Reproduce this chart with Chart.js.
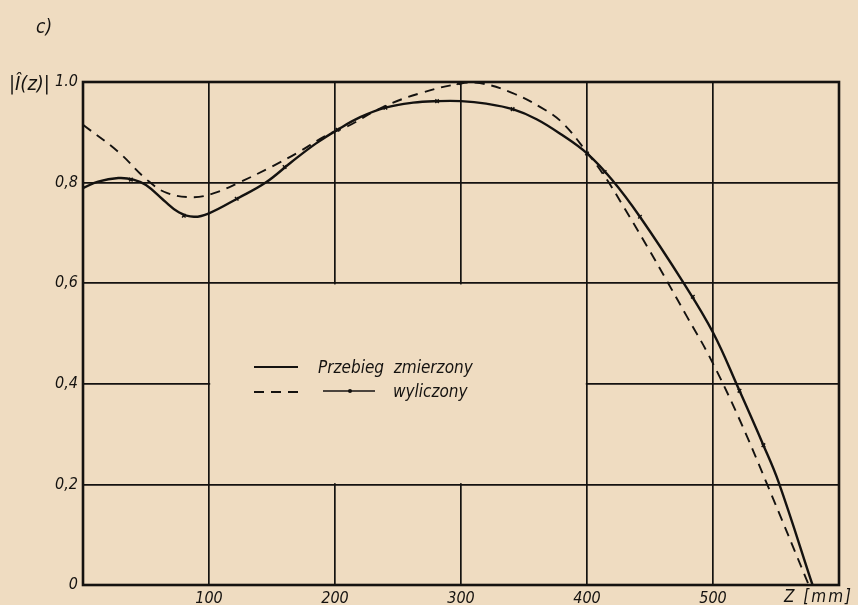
<!DOCTYPE html>
<html>
<head>
<meta charset="utf-8">
<script src="https://cdn.jsdelivr.net/npm/chart.js@4/dist/chart.umd.min.js"></script>
<style>
  html, body { margin: 0; padding: 0; background: #efdcc1; }
  #wrap { width: 858px; height: 605px; position: relative; }
</style>
</head>
<body>
<div id="wrap"><canvas id="plot" width="858" height="605"></canvas></div>
<script>
// measured curve (Przebieg zmierzony)
const measuredZ = [0, 12, 28, 40, 50, 64, 76, 88, 100, 123, 145, 165, 185, 202, 220, 240, 262, 281, 300, 320, 341, 360, 380, 400, 420, 442, 476, 500, 520, 540, 552, 579];
const measuredI = [0.789, 0.802, 0.809, 0.806, 0.795, 0.765, 0.741, 0.732, 0.739, 0.769, 0.800, 0.840, 0.878, 0.905, 0.930, 0.949, 0.959, 0.962, 0.962, 0.957, 0.946, 0.926, 0.895, 0.858, 0.805, 0.732, 0.603, 0.502, 0.392, 0.278, 0.205, 0];

// computed curve (wyliczony), dashed
const computedZ = [0, 28, 51, 67, 88, 104, 123, 150, 170, 194, 210, 238, 268, 300, 315, 341, 363, 380, 400, 416, 429, 448, 464, 479, 497, 520, 543, 576];
const computedI = [0.915, 0.861, 0.805, 0.779, 0.771, 0.779, 0.799, 0.832, 0.859, 0.895, 0.912, 0.950, 0.978, 0.997, 0.998, 0.978, 0.950, 0.920, 0.860, 0.805, 0.752, 0.672, 0.602, 0.535, 0.455, 0.335, 0.200, 0];

// computed points marked on the curves
const pointZ = [38, 80, 122, 160, 202, 240, 281, 298, 341, 400, 414, 442, 484, 521, 540];
const pointI = [0.806, 0.734, 0.768, 0.831, 0.905, 0.949, 0.962, 0.998, 0.946, 0.858, 0.821, 0.732, 0.573, 0.386, 0.278];

const xTicks = [100, 200, 300, 400, 500];
const legendSolid = 'Przebieg  zmierzony';
const legendDashed = 'wyliczony';

const paper = '#efdcc1';
const ink = '#141210';
const fontFam = "'Liberation Sans Narrow', 'DejaVu Sans Condensed', sans-serif";

function pairs(xs, ys) { return xs.map((v, i) => ({x: v, y: ys[i]})); }

const extras = {
  id: 'extras',
  beforeDatasetsDraw(chart) {
    const {ctx, chartArea: a, scales: {x, y}} = chart;
    ctx.save();
    // the middle cell has no grid lines on the original sheet
    const x1 = x.getPixelForValue(100), x2 = x.getPixelForValue(400);
    const y1 = y.getPixelForValue(0.6), y2 = y.getPixelForValue(0.2);
    ctx.fillStyle = paper;
    ctx.fillRect(x1 + 1.2, y1 + 1.2, x2 - x1 - 2.4, y2 - y1 - 2.4);
    ctx.strokeStyle = ink;
    ctx.lineWidth = 2.6;
    ctx.strokeRect(a.left, a.top, a.right - a.left, a.bottom - a.top);
    ctx.restore();
  },
  afterDraw(chart) {
    const {ctx} = chart;
    ctx.save();
    ctx.fillStyle = ink;
    ctx.strokeStyle = ink;
    ctx.textBaseline = 'alphabetic';

    ctx.font = 'italic 19px ' + fontFam;
    ctx.fillText('c)', 36, 33);
    ctx.font = 'italic 20px ' + fontFam;
    ctx.fillText('|Î(z)|', 9, 90);
    ctx.font = 'italic 17px ' + fontFam;
    ctx.letterSpacing = '2px';
    ctx.fillText('Z [mm]', 784, 602);
    ctx.letterSpacing = '0px';

    // legend
    const lx = 254, ly = 367;
    ctx.lineWidth = 2.2;
    ctx.beginPath(); ctx.moveTo(lx, ly); ctx.lineTo(lx + 44, ly); ctx.stroke();
    ctx.lineWidth = 1.8;
    ctx.setLineDash([10, 7]);
    ctx.beginPath(); ctx.moveTo(lx, ly + 25); ctx.lineTo(lx + 46, ly + 25); ctx.stroke();
    ctx.setLineDash([]);
    ctx.lineWidth = 1.5;
    ctx.beginPath(); ctx.moveTo(lx + 69, ly + 24); ctx.lineTo(lx + 121, ly + 24); ctx.stroke();
    ctx.beginPath(); ctx.arc(lx + 96, ly + 24, 2, 0, Math.PI * 2); ctx.fill();
    ctx.font = 'italic 17px ' + fontFam;
    ctx.fillText(legendSolid, lx + 64, ly + 6);
    ctx.fillText(legendDashed, lx + 139, ly + 30);
    ctx.restore();
  }
};

const data = {
  datasets: [
    {
      label: 'Przebieg zmierzony',
      data: pairs(measuredZ, measuredI),
      showLine: true,
      borderColor: ink,
      borderWidth: 2.4,
      pointRadius: 0,
      tension: 0.4
    },
    {
      label: 'wyliczony',
      data: pairs(computedZ, computedI),
      showLine: true,
      borderColor: ink,
      borderWidth: 1.9,
      borderDash: [10, 7],
      pointRadius: 0,
      tension: 0.4
    },
    {
      label: 'punkty',
      data: pairs(pointZ, pointI),
      showLine: false,
      pointStyle: 'crossRot',
      pointRadius: 2.5,
      borderColor: ink,
      borderWidth: 1.5
    }
  ]
};

const tickFont = { family: fontFam, size: 16, style: 'italic' };

const config = {
  type: 'scatter',
  data: data,
  options: {
    responsive: false,
    animation: false,
    layout: { padding: { top: 82, right: 19, left: 0, bottom: 0 } },
    plugins: { legend: { display: false }, tooltip: { enabled: false } },
    scales: {
      x: {
        type: 'linear', min: 0, max: 600,
        afterBuildTicks: s => { s.ticks = xTicks.map(v => ({value: v})); },
        afterFit: s => { s.height = 20; },
        grid: { color: ink, lineWidth: 1.7, drawTicks: false },
        border: { display: false },
        ticks: { color: ink, padding: 4, maxRotation: 0, font: tickFont }
      },
      y: {
        min: 0, max: 1,
        afterFit: s => { s.width = 83; },
        grid: { color: ink, lineWidth: 1.7, drawTicks: false },
        border: { display: false },
        ticks: {
          stepSize: 0.2, color: ink, padding: 5, font: tickFont,
          callback: v => v === 1 ? '1.0' : v === 0 ? '0' : v.toFixed(1).replace('.', ',')
        }
      }
    }
  },
  plugins: [extras]
};

let ctx = document.getElementById("plot").getContext("2d");
let chart = new Chart(ctx, config);
</script>
</body>
</html>
